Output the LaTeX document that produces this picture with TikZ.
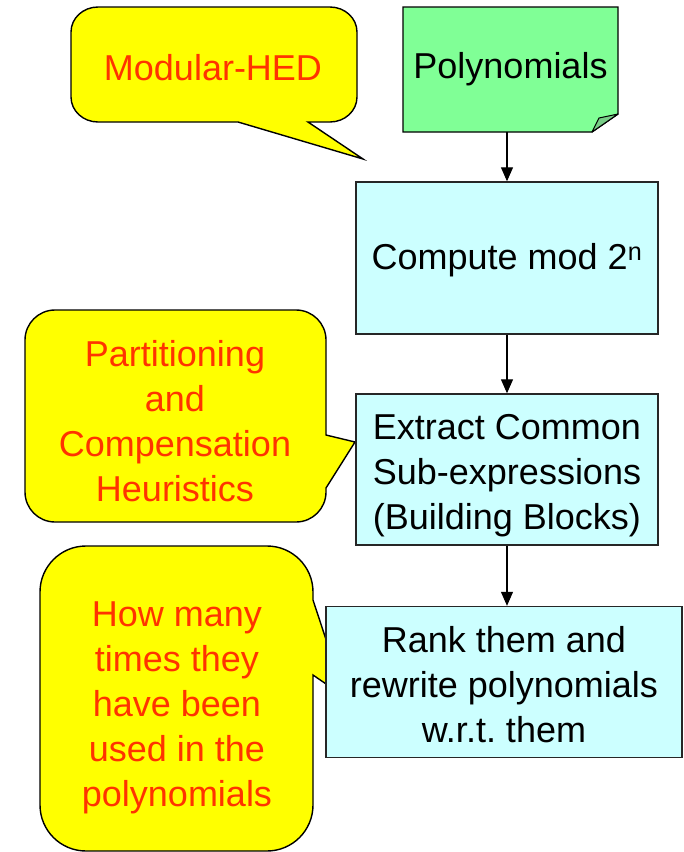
\documentclass[tikz,border=0pt]{standalone}
\usepackage{fontspec}
\setmainfont{Liberation Sans}
\usetikzlibrary{arrows.meta}
\definecolor{calloutyellow}{RGB}{255,255,0}
\definecolor{calloutred}{RGB}{255,51,0}
\definecolor{polygreen}{RGB}{128,255,150}
\definecolor{foldgreen}{RGB}{120,205,135}
\definecolor{stepcyan}{RGB}{204,255,255}
\begin{document}
\begin{tikzpicture}[x=1pt,y=-1pt,
  bigtext/.style={font=\fontsize{36}{45}\selectfont},
  stepbox/.style={draw=black!85,line width=1.4pt,fill=stepcyan,inner sep=0pt,align=center,bigtext},
  bubble/.style={draw=black,line width=1.4pt,fill=calloutyellow,line join=miter},
  bubbletext/.style={text=calloutred,align=center,inner sep=0pt,bigtext},
  flow/.style={line width=1.1pt,-{Triangle[length=14pt,width=12pt]}}]
\useasboundingbox (0,0) rectangle (684,852);
\clip (0,0) rectangle (684,852);

% speech bubbles
\draw[bubble] (98,7) -- (330,7) arc(-90:0:27 and 25) -- (357,97) arc(0:90:27 and 25)
  -- (308,122) -- (363,159) -- (238,122) -- (98,122) arc(90:180:27 and 25)
  -- (71,32) arc(180:270:27 and 25) -- cycle;
\node[bubbletext] (hed) at (213,68) {Modular-HED};

\draw[bubble] (55,310) -- (296,310) arc(-90:0:30) -- (326,435) -- (355,442)
  -- (326,488) -- (326,492) arc(0:90:30) -- (55,522) arc(90:180:30)
  -- (25,340) arc(180:270:30) -- cycle;
\node[bubbletext] (heur) at (175,421) {Partitioning\\and\\Compensation\\Heuristics};

\draw[bubble] (86,546) -- (267,546) arc(-90:0:46) -- (313,600) -- (345,697)
  -- (313,675) -- (313,805) arc(0:90:46) -- (86,851) arc(90:180:46)
  -- (40,592) arc(180:270:46) -- cycle;
\node[bubbletext] (count) at (177,708) {How many\\times they\\have been\\used in the\\polynomials};

% input document with a folded corner
\draw[line width=1.4pt,fill=polygreen,line join=miter]
  (403,7) -- (618,7) -- (618,114) -- (592,132) -- (403,132) -- cycle;
\draw[line width=1pt,fill=foldgreen,line join=round]
  (592,132) .. controls (595,125) .. (599,118) -- (618,114) -- cycle;
\node[minimum width=215pt,minimum height=125pt,inner sep=0pt,bigtext] (poly) at (510.5,69.5) {Polynomials};

% processing steps
\node[stepbox,minimum width=302pt,minimum height=152pt] (mod) at (507,258) {};
\node[bigtext] (modtext) at ([yshift=-2pt]mod.center) {Compute mod 2\textsuperscript{n}};
\node[stepbox,minimum width=302pt,minimum height=151pt] (cse) at (507,469.5) {};
\node[bigtext,align=center] (csetext) at ([yshift=-6pt]cse.center) {Extract Common\\Sub-expressions\\(Building Blocks)};
\node[stepbox,minimum width=356pt,minimum height=151pt] (rank) at (504,682) {};
\node[bigtext,align=center] (ranktext) at ([yshift=-3pt]rank.center) {Rank them and\\rewrite polynomials\\w.r.t.\ them};

% flow arrows
\draw[flow] (mod.north |- poly.south) -- (mod.north);
\draw[flow] (mod.south) -- (cse.north);
\draw[flow] (cse.south) -- (cse.south |- rank.north);
\end{tikzpicture}
\end{document}
